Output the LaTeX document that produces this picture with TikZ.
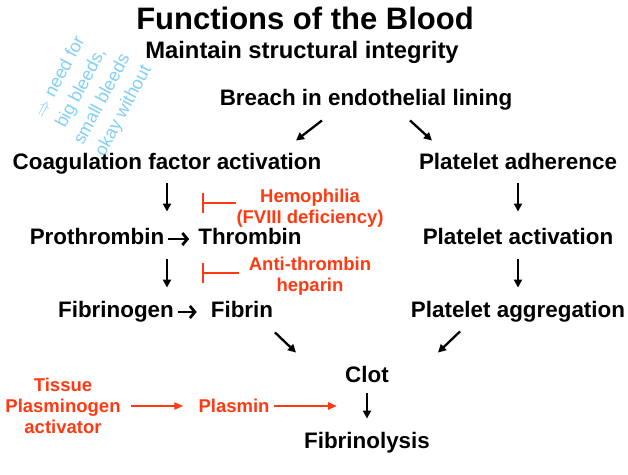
\documentclass[tikz,border=0pt]{standalone}
\usepackage{fontspec}
\setmainfont{Liberation Sans}
\usetikzlibrary{arrows.meta,calc}
\definecolor{inhibred}{HTML}{FF3A12}
\definecolor{penblue}{HTML}{82CFF5}

\begin{document}
\begin{tikzpicture}[
    x=1pt, y=-1pt,
    txt/.style={font=\bfseries\fontsize{22.4}{26}\selectfont, inner sep=0pt, text height=16pt, text depth=4.5pt},
    redtxt/.style={font=\bfseries\fontsize{18.5}{21}\selectfont, text=inhibred, align=center, inner sep=0pt},
    note/.style={font=\fontsize{18}{24}\selectfont, text=penblue, rotate=62, align=center, inner sep=0pt},
    arrow/.style={-{Triangle[length=8pt,width=8pt]}, line width=2.3pt},
    textarrow/.style={-{Straight Barb[length=5pt,width=12pt]}, line width=2.8pt},
    redarrow/.style={-{Triangle[length=9pt,width=7pt]}, line width=2.2pt, draw=inhibred},
    inhibit/.style={-{Bar[width=20pt]}, line width=2.2pt, draw=inhibred}
]
\useasboundingbox (0,0) rectangle (628,474);

% ---- Headings ----
\node[font=\bfseries\fontsize{31}{36}\selectfont, inner sep=0pt] (title) at (305,18) {Functions of the Blood};
\node[font=\bfseries\fontsize{23.8}{28}\selectfont, inner sep=0pt] (subtitle) at (302,52) {Maintain structural integrity};

% ---- Handwritten note ----
\node[note] (scribble) at (92,94) {$\Rightarrow$ need for\\big bleeds,\\small bleeds\\okay without};

% ---- Main chain ----
\node[txt] (breach) at (366,100) {Breach in endothelial lining};
\node[txt] (coag) at (167,164) {Coagulation factor activation};
\node[txt] (prothr) at (97,239) {Prothrombin};
\node[txt] (thromb) at (250,239) {Thrombin};
\node[txt] (fbgen) at (116,312) {Fibrinogen};
\node[txt] (fibrin) at (242,312) {Fibrin};
\node[txt] (adher) at (518,164) {Platelet adherence};
\node[txt] (plact) at (518,239) {Platelet activation};
\node[txt] (plagg) at (518,312) {Platelet aggregation};
\node[txt] (clot) at (367,377) {Clot};
\node[txt] (fibly) at (367,443) {Fibrinolysis};

% ---- Red labels ----
\node[redtxt] (hemo) at (310,208) {Hemophilia\\(FVIII deficiency)};
\node[redtxt] (antith) at (310,276) {Anti-thrombin\\heparin};
\node[redtxt] (tpa) at (63,406) {Tissue\\Plasminogen\\activator};
\node[redtxt] (plasmin) at (234,406) {Plasmin};

% ---- Black arrows ----
\draw[arrow] ($(breach.south)+(-44,10)$) -- ($(coag.north)+(129,-13)$);
\draw[arrow] ($(breach.south)+(44,10)$) -- ($(adher.north)+(-86,-13)$);
\draw[arrow, shorten <=9pt, shorten >=17pt] (coag.south) -- (coag.south |- prothr.north);
\draw[arrow, shorten <=10pt, shorten >=14pt] (coag.south |- prothr.south) -- (coag.south |- fbgen.north);
\draw[arrow, shorten <=9pt, shorten >=17pt] (adher.south) -- (plact.north);
\draw[arrow, shorten <=10pt, shorten >=14pt] (plact.south) -- (plagg.north);
\draw[arrow] ($(fibrin.south)+(33,10)$) -- ($(clot.north)+(-71,-14)$);
\draw[arrow] ($(plagg.south)+(-58,9)$) -- ($(clot.north)+(71,-14)$);
\draw[arrow, shorten <=6pt, shorten >=14pt] (clot.south) -- (fibly.north);

% ---- Conversions ----
\draw[textarrow, shorten <=4pt, shorten >=9pt] (prothr.east) -- (thromb.west);
\draw[textarrow, shorten <=4pt, shorten >=14pt] (fbgen.east) -- (fibrin.west);

% ---- Inhibition ----
\coordinate (stop1) at (202,203);
\coordinate (stop2) at (202,273);
\draw[inhibit] (stop1 -| hemo.west) -- (stop1);
\draw[inhibit, shorten <=10pt] (stop2 -| antith.west) -- (stop2);

% ---- Fibrinolysis path ----
\draw[redarrow, shorten <=10pt, shorten >=15pt] (tpa.east) -- (plasmin.west);
\draw[redarrow, shorten <=4pt, shorten >=8pt] (plasmin.east) -- (plasmin.east -| clot.west);

\end{tikzpicture}
\end{document}
